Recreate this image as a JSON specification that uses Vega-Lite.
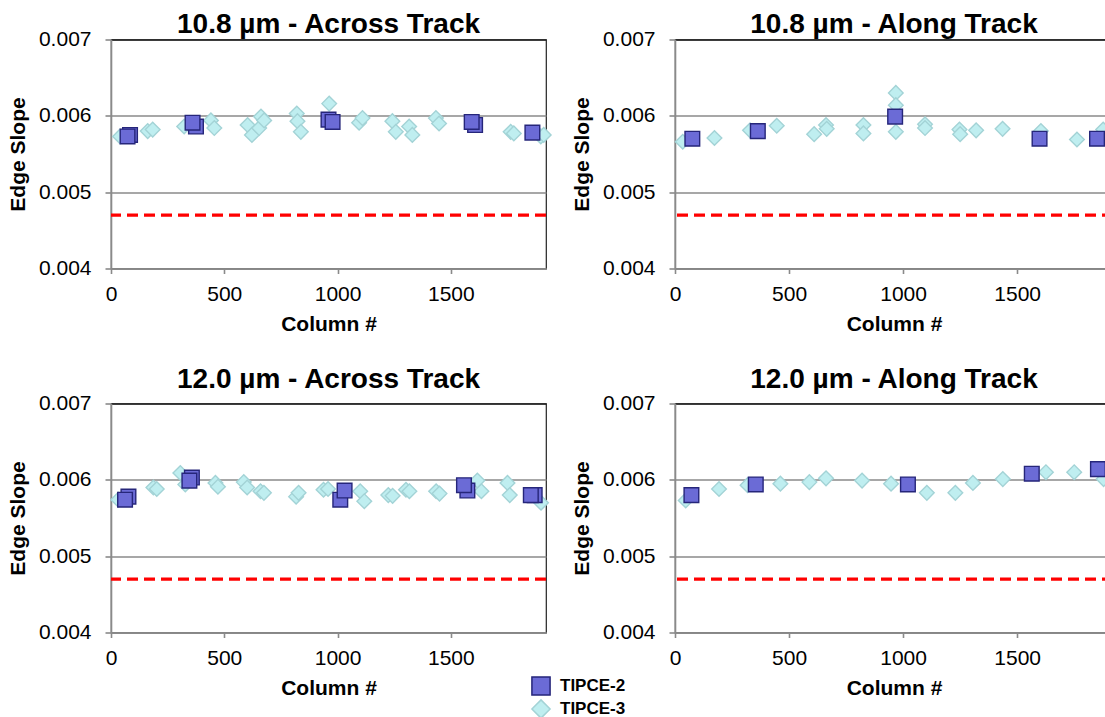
{
  "$schema": "https://vega.github.io/schema/vega-lite/v6.json",
  "padding": {"left": 6, "top": 9.5, "right": 0, "bottom": 0},
  "background": "white",
  "config": {
    "font": "Liberation Sans",
    "view": {"stroke": "#222222", "strokeWidth": 1.2},
    "title": {"font": "Liberation Sans", "fontSize": 28, "fontWeight": "bold", "color": "#000000", "anchor": "middle", "frame": "group", "baseline": "alphabetic"},
    "axis": {
      "labelFont": "Liberation Sans", "labelFontSize": 21, "labelColor": "#000000", "labelFlush": false,
      "titleFont": "Liberation Sans", "titleFontSize": 21, "titleFontWeight": "bold", "titleColor": "#000000",
      "domainColor": "#8a8a8a", "domainWidth": 1.6, "tickColor": "#8a8a8a", "tickWidth": 1.6,
      "gridColor": "#8a8a8a", "gridWidth": 1.4
    },
    "axisX": {"grid": false, "tickSize": 5, "labelPadding": 10, "titlePadding": 9},
    "axisY": {"grid": true, "tickSize": 6, "labelPadding": 14, "titlePadding": 10},
    "legend": {"labelFont": "Liberation Sans", "labelFontSize": 17, "labelFontWeight": "bold", "labelColor": "#000000", "symbolStrokeWidth": 1.5, "labelOffset": 9, "rowPadding": -4}
  },
  "data": {"values": [
    {"p": "a", "s": "TIPCE-3", "c": 40, "v": 0.00573},
    {"p": "a", "s": "TIPCE-3", "c": 162, "v": 0.00580},
    {"p": "a", "s": "TIPCE-3", "c": 184, "v": 0.00582},
    {"p": "a", "s": "TIPCE-3", "c": 323, "v": 0.00586},
    {"p": "a", "s": "TIPCE-3", "c": 441, "v": 0.00594},
    {"p": "a", "s": "TIPCE-3", "c": 456, "v": 0.00584},
    {"p": "a", "s": "TIPCE-3", "c": 603, "v": 0.00588},
    {"p": "a", "s": "TIPCE-3", "c": 622, "v": 0.00575},
    {"p": "a", "s": "TIPCE-3", "c": 654, "v": 0.00584},
    {"p": "a", "s": "TIPCE-3", "c": 662, "v": 0.00599},
    {"p": "a", "s": "TIPCE-3", "c": 676, "v": 0.00594},
    {"p": "a", "s": "TIPCE-3", "c": 820, "v": 0.00603},
    {"p": "a", "s": "TIPCE-3", "c": 823, "v": 0.00593},
    {"p": "a", "s": "TIPCE-3", "c": 838, "v": 0.00579},
    {"p": "a", "s": "TIPCE-3", "c": 963, "v": 0.00616},
    {"p": "a", "s": "TIPCE-3", "c": 1095, "v": 0.00591},
    {"p": "a", "s": "TIPCE-3", "c": 1110, "v": 0.00597},
    {"p": "a", "s": "TIPCE-3", "c": 1242, "v": 0.00593},
    {"p": "a", "s": "TIPCE-3", "c": 1257, "v": 0.00579},
    {"p": "a", "s": "TIPCE-3", "c": 1316, "v": 0.00586},
    {"p": "a", "s": "TIPCE-3", "c": 1330, "v": 0.00575},
    {"p": "a", "s": "TIPCE-3", "c": 1434, "v": 0.00597},
    {"p": "a", "s": "TIPCE-3", "c": 1448, "v": 0.00590},
    {"p": "a", "s": "TIPCE-3", "c": 1764, "v": 0.00579},
    {"p": "a", "s": "TIPCE-3", "c": 1778, "v": 0.00577},
    {"p": "a", "s": "TIPCE-3", "c": 1897, "v": 0.00573},
    {"p": "a", "s": "TIPCE-3", "c": 1910, "v": 0.00575},
    {"p": "b", "s": "TIPCE-3", "c": 34, "v": 0.00566},
    {"p": "b", "s": "TIPCE-3", "c": 173, "v": 0.00571},
    {"p": "b", "s": "TIPCE-3", "c": 329, "v": 0.00581},
    {"p": "b", "s": "TIPCE-3", "c": 446, "v": 0.00587},
    {"p": "b", "s": "TIPCE-3", "c": 610, "v": 0.00576},
    {"p": "b", "s": "TIPCE-3", "c": 662, "v": 0.00588},
    {"p": "b", "s": "TIPCE-3", "c": 665, "v": 0.00583},
    {"p": "b", "s": "TIPCE-3", "c": 826, "v": 0.00588},
    {"p": "b", "s": "TIPCE-3", "c": 826, "v": 0.00577},
    {"p": "b", "s": "TIPCE-3", "c": 968, "v": 0.00630},
    {"p": "b", "s": "TIPCE-3", "c": 968, "v": 0.00614},
    {"p": "b", "s": "TIPCE-3", "c": 968, "v": 0.00579},
    {"p": "b", "s": "TIPCE-3", "c": 1096, "v": 0.00589},
    {"p": "b", "s": "TIPCE-3", "c": 1096, "v": 0.00584},
    {"p": "b", "s": "TIPCE-3", "c": 1247, "v": 0.00582},
    {"p": "b", "s": "TIPCE-3", "c": 1250, "v": 0.00576},
    {"p": "b", "s": "TIPCE-3", "c": 1320, "v": 0.00581},
    {"p": "b", "s": "TIPCE-3", "c": 1436, "v": 0.00583},
    {"p": "b", "s": "TIPCE-3", "c": 1604, "v": 0.00580},
    {"p": "b", "s": "TIPCE-3", "c": 1762, "v": 0.00569},
    {"p": "b", "s": "TIPCE-3", "c": 1877, "v": 0.00582},
    {"p": "c", "s": "TIPCE-3", "c": 32, "v": 0.00574},
    {"p": "c", "s": "TIPCE-3", "c": 187, "v": 0.00590},
    {"p": "c", "s": "TIPCE-3", "c": 202, "v": 0.00588},
    {"p": "c", "s": "TIPCE-3", "c": 306, "v": 0.00609},
    {"p": "c", "s": "TIPCE-3", "c": 328, "v": 0.00594},
    {"p": "c", "s": "TIPCE-3", "c": 461, "v": 0.00596},
    {"p": "c", "s": "TIPCE-3", "c": 472, "v": 0.00591},
    {"p": "c", "s": "TIPCE-3", "c": 586, "v": 0.00597},
    {"p": "c", "s": "TIPCE-3", "c": 601, "v": 0.00590},
    {"p": "c", "s": "TIPCE-3", "c": 660, "v": 0.00585},
    {"p": "c", "s": "TIPCE-3", "c": 675, "v": 0.00583},
    {"p": "c", "s": "TIPCE-3", "c": 817, "v": 0.00578},
    {"p": "c", "s": "TIPCE-3", "c": 828, "v": 0.00583},
    {"p": "c", "s": "TIPCE-3", "c": 938, "v": 0.00587},
    {"p": "c", "s": "TIPCE-3", "c": 958, "v": 0.00588},
    {"p": "c", "s": "TIPCE-3", "c": 1100, "v": 0.00585},
    {"p": "c", "s": "TIPCE-3", "c": 1118, "v": 0.00572},
    {"p": "c", "s": "TIPCE-3", "c": 1224, "v": 0.00580},
    {"p": "c", "s": "TIPCE-3", "c": 1243, "v": 0.00579},
    {"p": "c", "s": "TIPCE-3", "c": 1302, "v": 0.00587},
    {"p": "c", "s": "TIPCE-3", "c": 1317, "v": 0.00585},
    {"p": "c", "s": "TIPCE-3", "c": 1435, "v": 0.00585},
    {"p": "c", "s": "TIPCE-3", "c": 1450, "v": 0.00582},
    {"p": "c", "s": "TIPCE-3", "c": 1617, "v": 0.00599},
    {"p": "c", "s": "TIPCE-3", "c": 1635, "v": 0.00585},
    {"p": "c", "s": "TIPCE-3", "c": 1750, "v": 0.00596},
    {"p": "c", "s": "TIPCE-3", "c": 1760, "v": 0.00580},
    {"p": "c", "s": "TIPCE-3", "c": 1898, "v": 0.00570},
    {"p": "d", "s": "TIPCE-3", "c": 47, "v": 0.00573},
    {"p": "d", "s": "TIPCE-3", "c": 193, "v": 0.00588},
    {"p": "d", "s": "TIPCE-3", "c": 318, "v": 0.00593},
    {"p": "d", "s": "TIPCE-3", "c": 462, "v": 0.00595},
    {"p": "d", "s": "TIPCE-3", "c": 589, "v": 0.00597},
    {"p": "d", "s": "TIPCE-3", "c": 662, "v": 0.00602},
    {"p": "d", "s": "TIPCE-3", "c": 820, "v": 0.00599},
    {"p": "d", "s": "TIPCE-3", "c": 947, "v": 0.00595},
    {"p": "d", "s": "TIPCE-3", "c": 1104, "v": 0.00583},
    {"p": "d", "s": "TIPCE-3", "c": 1229, "v": 0.00583},
    {"p": "d", "s": "TIPCE-3", "c": 1306, "v": 0.00596},
    {"p": "d", "s": "TIPCE-3", "c": 1437, "v": 0.00601},
    {"p": "d", "s": "TIPCE-3", "c": 1626, "v": 0.00610},
    {"p": "d", "s": "TIPCE-3", "c": 1750, "v": 0.00610},
    {"p": "d", "s": "TIPCE-3", "c": 1879, "v": 0.00601},
    {"p": "a", "s": "TIPCE-2", "c": 84, "v": 0.00575},
    {"p": "a", "s": "TIPCE-2", "c": 73, "v": 0.00573},
    {"p": "a", "s": "TIPCE-2", "c": 375, "v": 0.00586},
    {"p": "a", "s": "TIPCE-2", "c": 360, "v": 0.00591},
    {"p": "a", "s": "TIPCE-2", "c": 960, "v": 0.00595},
    {"p": "a", "s": "TIPCE-2", "c": 978, "v": 0.00592},
    {"p": "a", "s": "TIPCE-2", "c": 1607, "v": 0.00588},
    {"p": "a", "s": "TIPCE-2", "c": 1592, "v": 0.00592},
    {"p": "a", "s": "TIPCE-2", "c": 1860, "v": 0.00578},
    {"p": "b", "s": "TIPCE-2", "c": 76, "v": 0.00570},
    {"p": "b", "s": "TIPCE-2", "c": 363, "v": 0.00580},
    {"p": "b", "s": "TIPCE-2", "c": 965, "v": 0.00599},
    {"p": "b", "s": "TIPCE-2", "c": 1598, "v": 0.00570},
    {"p": "b", "s": "TIPCE-2", "c": 1850, "v": 0.00570},
    {"p": "c", "s": "TIPCE-2", "c": 77, "v": 0.00578},
    {"p": "c", "s": "TIPCE-2", "c": 62, "v": 0.00574},
    {"p": "c", "s": "TIPCE-2", "c": 357, "v": 0.00603},
    {"p": "c", "s": "TIPCE-2", "c": 346, "v": 0.00599},
    {"p": "c", "s": "TIPCE-2", "c": 1012, "v": 0.00574},
    {"p": "c", "s": "TIPCE-2", "c": 1031, "v": 0.00586},
    {"p": "c", "s": "TIPCE-2", "c": 1573, "v": 0.00586},
    {"p": "c", "s": "TIPCE-2", "c": 1558, "v": 0.00593},
    {"p": "c", "s": "TIPCE-2", "c": 1870, "v": 0.00580},
    {"p": "c", "s": "TIPCE-2", "c": 1853, "v": 0.00580},
    {"p": "d", "s": "TIPCE-2", "c": 72, "v": 0.00580},
    {"p": "d", "s": "TIPCE-2", "c": 354, "v": 0.00594},
    {"p": "d", "s": "TIPCE-2", "c": 1021, "v": 0.00594},
    {"p": "d", "s": "TIPCE-2", "c": 1564, "v": 0.00608},
    {"p": "d", "s": "TIPCE-2", "c": 1854, "v": 0.00614}
  ]},
  "columns": 2,
  "spacing": {"row": 29, "column": 15},
  "resolve": {"scale": {"fill": "shared", "stroke": "shared", "shape": "shared"}, "legend": {"fill": "shared", "stroke": "shared", "shape": "shared"}},
  "concat": [
    {
      "title": {"text": "10.8 µm - Across Track", "offset": -10},
      "width": 435, "height": 229,
      "layer": [
        {"data": {"values": [{"t": 0.0047}]}, "mark": {"type": "rule", "color": "#FF0000", "strokeWidth": 3.2, "strokeDash": [11, 6]},
         "encoding": {"y": {"field": "t", "type": "quantitative", "title": "Edge Slope", "scale": {"domain": [0.004, 0.007], "nice": false}, "axis": {"values": [0.004, 0.005, 0.006, 0.007], "format": ".3f", "gridColor": {"condition": {"test": "datum.value > 0.0065", "value": "#222222"}, "value": "#8a8a8a"}}}}},
        {"transform": [{"filter": "datum.p === 'a'"}],
         "mark": {"type": "point", "filled": true, "size": 215, "strokeWidth": 1.4, "opacity": 1},
         "encoding": {
           "x": {"field": "c", "type": "quantitative", "title": "Column #", "scale": {"domain": [0, 1920], "nice": false}, "axis": {"values": [0, 500, 1000, 1500], "format": "d"}},
           "y": {"field": "v", "type": "quantitative", "title": "Edge Slope", "scale": {"domain": [0.004, 0.007], "nice": false}, "axis": {"values": [0.004, 0.005, 0.006, 0.007], "format": ".3f", "gridColor": {"condition": {"test": "datum.value > 0.0065", "value": "#222222"}, "value": "#8a8a8a"}}},
           "fill": {"field": "s", "type": "nominal", "scale": {"domain": ["TIPCE-2", "TIPCE-3"], "range": ["#6B6BD6", "#BFEEF0"]}, "legend": {"orient": "none", "legendX": 420, "legendY": 636.5, "title": null, "symbolSize": 330}},
           "stroke": {"field": "s", "type": "nominal", "scale": {"domain": ["TIPCE-2", "TIPCE-3"], "range": ["#26267A", "#A3D3D6"]}, "legend": {"orient": "none", "legendX": 420, "legendY": 636.5, "title": null, "symbolSize": 330}},
           "shape": {"field": "s", "type": "nominal", "scale": {"domain": ["TIPCE-2", "TIPCE-3"], "range": ["square", "diamond"]}, "legend": {"orient": "none", "legendX": 420, "legendY": 636.5, "title": null, "symbolSize": 330}}
         }}
      ]
    },
    {
      "title": {"text": "10.8 µm - Along Track", "offset": -10},
      "width": 438, "height": 229,
      "layer": [
        {"data": {"values": [{"t": 0.0047}]}, "mark": {"type": "rule", "color": "#FF0000", "strokeWidth": 3.2, "strokeDash": [11, 6]},
         "encoding": {"y": {"field": "t", "type": "quantitative", "title": "Edge Slope", "scale": {"domain": [0.004, 0.007], "nice": false}, "axis": {"values": [0.004, 0.005, 0.006, 0.007], "format": ".3f", "gridColor": {"condition": {"test": "datum.value > 0.0065", "value": "#222222"}, "value": "#8a8a8a"}}}}},
        {"transform": [{"filter": "datum.p === 'b'"}],
         "mark": {"type": "point", "filled": true, "size": 215, "strokeWidth": 1.4, "opacity": 1},
         "encoding": {
           "x": {"field": "c", "type": "quantitative", "title": "Column #", "scale": {"domain": [0, 1920], "nice": false}, "axis": {"values": [0, 500, 1000, 1500], "format": "d"}},
           "y": {"field": "v", "type": "quantitative", "title": "Edge Slope", "scale": {"domain": [0.004, 0.007], "nice": false}, "axis": {"values": [0.004, 0.005, 0.006, 0.007], "format": ".3f", "gridColor": {"condition": {"test": "datum.value > 0.0065", "value": "#222222"}, "value": "#8a8a8a"}}},
           "fill": {"field": "s", "type": "nominal", "scale": {"domain": ["TIPCE-2", "TIPCE-3"], "range": ["#6B6BD6", "#BFEEF0"]}, "legend": {"orient": "none", "legendX": 420, "legendY": 636.5, "title": null, "symbolSize": 330}},
           "stroke": {"field": "s", "type": "nominal", "scale": {"domain": ["TIPCE-2", "TIPCE-3"], "range": ["#26267A", "#A3D3D6"]}, "legend": {"orient": "none", "legendX": 420, "legendY": 636.5, "title": null, "symbolSize": 330}},
           "shape": {"field": "s", "type": "nominal", "scale": {"domain": ["TIPCE-2", "TIPCE-3"], "range": ["square", "diamond"]}, "legend": {"orient": "none", "legendX": 420, "legendY": 636.5, "title": null, "symbolSize": 330}}
         }}
      ]
    },
    {
      "title": {"text": "12.0 µm - Across Track", "offset": -1},
      "width": 435, "height": 229,
      "layer": [
        {"data": {"values": [{"t": 0.0047}]}, "mark": {"type": "rule", "color": "#FF0000", "strokeWidth": 3.2, "strokeDash": [11, 6]},
         "encoding": {"y": {"field": "t", "type": "quantitative", "title": "Edge Slope", "scale": {"domain": [0.004, 0.007], "nice": false}, "axis": {"values": [0.004, 0.005, 0.006, 0.007], "format": ".3f", "gridColor": {"condition": {"test": "datum.value > 0.0065", "value": "#222222"}, "value": "#8a8a8a"}}}}},
        {"transform": [{"filter": "datum.p === 'c'"}],
         "mark": {"type": "point", "filled": true, "size": 215, "strokeWidth": 1.4, "opacity": 1},
         "encoding": {
           "x": {"field": "c", "type": "quantitative", "title": "Column #", "scale": {"domain": [0, 1920], "nice": false}, "axis": {"values": [0, 500, 1000, 1500], "format": "d"}},
           "y": {"field": "v", "type": "quantitative", "title": "Edge Slope", "scale": {"domain": [0.004, 0.007], "nice": false}, "axis": {"values": [0.004, 0.005, 0.006, 0.007], "format": ".3f", "gridColor": {"condition": {"test": "datum.value > 0.0065", "value": "#222222"}, "value": "#8a8a8a"}}},
           "fill": {"field": "s", "type": "nominal", "scale": {"domain": ["TIPCE-2", "TIPCE-3"], "range": ["#6B6BD6", "#BFEEF0"]}, "legend": {"orient": "none", "legendX": 420, "legendY": 636.5, "title": null, "symbolSize": 330}},
           "stroke": {"field": "s", "type": "nominal", "scale": {"domain": ["TIPCE-2", "TIPCE-3"], "range": ["#26267A", "#A3D3D6"]}, "legend": {"orient": "none", "legendX": 420, "legendY": 636.5, "title": null, "symbolSize": 330}},
           "shape": {"field": "s", "type": "nominal", "scale": {"domain": ["TIPCE-2", "TIPCE-3"], "range": ["square", "diamond"]}, "legend": {"orient": "none", "legendX": 420, "legendY": 636.5, "title": null, "symbolSize": 330}}
         }}
      ]
    },
    {
      "title": {"text": "12.0 µm - Along Track", "offset": -1},
      "width": 438, "height": 229,
      "layer": [
        {"data": {"values": [{"t": 0.0047}]}, "mark": {"type": "rule", "color": "#FF0000", "strokeWidth": 3.2, "strokeDash": [11, 6]},
         "encoding": {"y": {"field": "t", "type": "quantitative", "title": "Edge Slope", "scale": {"domain": [0.004, 0.007], "nice": false}, "axis": {"values": [0.004, 0.005, 0.006, 0.007], "format": ".3f", "gridColor": {"condition": {"test": "datum.value > 0.0065", "value": "#222222"}, "value": "#8a8a8a"}}}}},
        {"transform": [{"filter": "datum.p === 'd'"}],
         "mark": {"type": "point", "filled": true, "size": 215, "strokeWidth": 1.4, "opacity": 1},
         "encoding": {
           "x": {"field": "c", "type": "quantitative", "title": "Column #", "scale": {"domain": [0, 1920], "nice": false}, "axis": {"values": [0, 500, 1000, 1500], "format": "d"}},
           "y": {"field": "v", "type": "quantitative", "title": "Edge Slope", "scale": {"domain": [0.004, 0.007], "nice": false}, "axis": {"values": [0.004, 0.005, 0.006, 0.007], "format": ".3f", "gridColor": {"condition": {"test": "datum.value > 0.0065", "value": "#222222"}, "value": "#8a8a8a"}}},
           "fill": {"field": "s", "type": "nominal", "scale": {"domain": ["TIPCE-2", "TIPCE-3"], "range": ["#6B6BD6", "#BFEEF0"]}, "legend": {"orient": "none", "legendX": 420, "legendY": 636.5, "title": null, "symbolSize": 330}},
           "stroke": {"field": "s", "type": "nominal", "scale": {"domain": ["TIPCE-2", "TIPCE-3"], "range": ["#26267A", "#A3D3D6"]}, "legend": {"orient": "none", "legendX": 420, "legendY": 636.5, "title": null, "symbolSize": 330}},
           "shape": {"field": "s", "type": "nominal", "scale": {"domain": ["TIPCE-2", "TIPCE-3"], "range": ["square", "diamond"]}, "legend": {"orient": "none", "legendX": 420, "legendY": 636.5, "title": null, "symbolSize": 330}}
         }}
      ]
    }
  ]
}
